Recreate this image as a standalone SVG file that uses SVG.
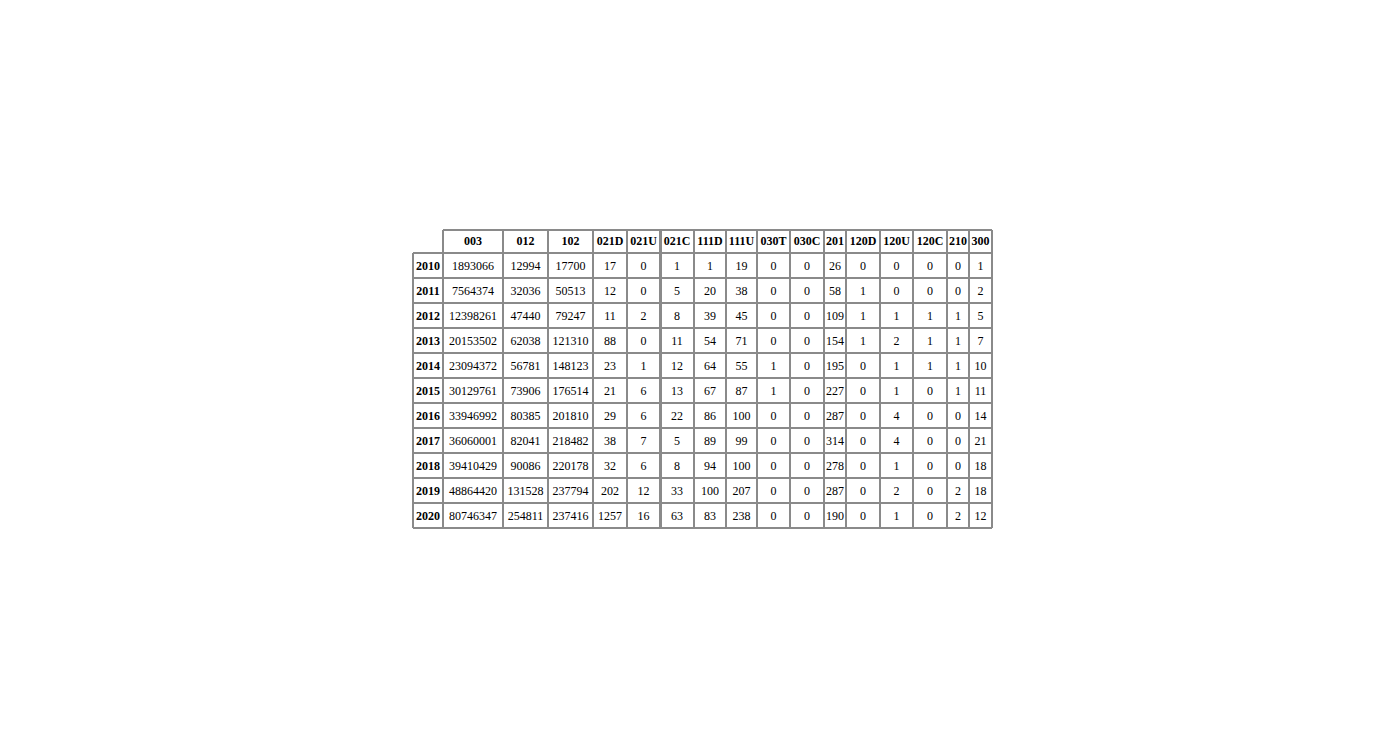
<svg xmlns="http://www.w3.org/2000/svg" width="1400" height="750" viewBox="0 0 1400 750">
<style>
.g{stroke:#8a8a8a;stroke-width:2;fill:none}
text{font-family:"Liberation Serif","Times New Roman",serif;font-size:12px;fill:#000;text-anchor:middle}
.h{font-weight:bold}
</style>
<rect width="1400" height="750" fill="#fff"/>
<g id="grid">
<path class="g" d="M443,230H992M413,253H992M413,278H992M413,303H992M413,328H992M413,353H992M413,378H992M413,403H992M413,428H992M413,453H992M413,478H992M413,503H992M413,528H992"/>
<path class="g" d="M413,253V528M443,230V528M503,230V528M548,230V528M593,230V528M627,230V528M660,230V528M694,230V528M726,230V528M757,230V528M790,230V528M824,230V528M846,230V528M880,230V528M913,230V528M947,230V528M969,230V528M992,230V528"/>
<path stroke="#8a8a8a" stroke-width="1" d="M661.5,230V528"/>
</g>
<g id="header" class="h">
<text x="473" y="245">003</text><text x="525.5" y="245">012</text><text x="570.5" y="245">102</text><text x="610" y="245">021D</text><text x="643.5" y="245">021U</text><text x="677" y="245">021C</text><text x="710" y="245">111D</text><text x="741.5" y="245">111U</text><text x="773.5" y="245">030T</text><text x="807" y="245">030C</text><text x="835" y="245">201</text><text x="863" y="245">120D</text><text x="896.5" y="245">120U</text><text x="930" y="245">120C</text><text x="958" y="245">210</text><text x="980.5" y="245">300</text>
</g>
<g id="r2010"><text class="h" x="428" y="270">2010</text><text x="473" y="270">1893066</text><text x="525.5" y="270">12994</text><text x="570.5" y="270">17700</text><text x="610" y="270">17</text><text x="643.5" y="270">0</text><text x="677" y="270">1</text><text x="710" y="270">1</text><text x="741.5" y="270">19</text><text x="773.5" y="270">0</text><text x="807" y="270">0</text><text x="835" y="270">26</text><text x="863" y="270">0</text><text x="896.5" y="270">0</text><text x="930" y="270">0</text><text x="958" y="270">0</text><text x="980.5" y="270">1</text></g>
<g id="r2011"><text class="h" x="428" y="295">2011</text><text x="473" y="295">7564374</text><text x="525.5" y="295">32036</text><text x="570.5" y="295">50513</text><text x="610" y="295">12</text><text x="643.5" y="295">0</text><text x="677" y="295">5</text><text x="710" y="295">20</text><text x="741.5" y="295">38</text><text x="773.5" y="295">0</text><text x="807" y="295">0</text><text x="835" y="295">58</text><text x="863" y="295">1</text><text x="896.5" y="295">0</text><text x="930" y="295">0</text><text x="958" y="295">0</text><text x="980.5" y="295">2</text></g>
<g id="r2012"><text class="h" x="428" y="320">2012</text><text x="473" y="320">12398261</text><text x="525.5" y="320">47440</text><text x="570.5" y="320">79247</text><text x="610" y="320">11</text><text x="643.5" y="320">2</text><text x="677" y="320">8</text><text x="710" y="320">39</text><text x="741.5" y="320">45</text><text x="773.5" y="320">0</text><text x="807" y="320">0</text><text x="835" y="320">109</text><text x="863" y="320">1</text><text x="896.5" y="320">1</text><text x="930" y="320">1</text><text x="958" y="320">1</text><text x="980.5" y="320">5</text></g>
<g id="r2013"><text class="h" x="428" y="345">2013</text><text x="473" y="345">20153502</text><text x="525.5" y="345">62038</text><text x="570.5" y="345">121310</text><text x="610" y="345">88</text><text x="643.5" y="345">0</text><text x="677" y="345">11</text><text x="710" y="345">54</text><text x="741.5" y="345">71</text><text x="773.5" y="345">0</text><text x="807" y="345">0</text><text x="835" y="345">154</text><text x="863" y="345">1</text><text x="896.5" y="345">2</text><text x="930" y="345">1</text><text x="958" y="345">1</text><text x="980.5" y="345">7</text></g>
<g id="r2014"><text class="h" x="428" y="370">2014</text><text x="473" y="370">23094372</text><text x="525.5" y="370">56781</text><text x="570.5" y="370">148123</text><text x="610" y="370">23</text><text x="643.5" y="370">1</text><text x="677" y="370">12</text><text x="710" y="370">64</text><text x="741.5" y="370">55</text><text x="773.5" y="370">1</text><text x="807" y="370">0</text><text x="835" y="370">195</text><text x="863" y="370">0</text><text x="896.5" y="370">1</text><text x="930" y="370">1</text><text x="958" y="370">1</text><text x="980.5" y="370">10</text></g>
<g id="r2015"><text class="h" x="428" y="395">2015</text><text x="473" y="395">30129761</text><text x="525.5" y="395">73906</text><text x="570.5" y="395">176514</text><text x="610" y="395">21</text><text x="643.5" y="395">6</text><text x="677" y="395">13</text><text x="710" y="395">67</text><text x="741.5" y="395">87</text><text x="773.5" y="395">1</text><text x="807" y="395">0</text><text x="835" y="395">227</text><text x="863" y="395">0</text><text x="896.5" y="395">1</text><text x="930" y="395">0</text><text x="958" y="395">1</text><text x="980.5" y="395">11</text></g>
<g id="r2016"><text class="h" x="428" y="420">2016</text><text x="473" y="420">33946992</text><text x="525.5" y="420">80385</text><text x="570.5" y="420">201810</text><text x="610" y="420">29</text><text x="643.5" y="420">6</text><text x="677" y="420">22</text><text x="710" y="420">86</text><text x="741.5" y="420">100</text><text x="773.5" y="420">0</text><text x="807" y="420">0</text><text x="835" y="420">287</text><text x="863" y="420">0</text><text x="896.5" y="420">4</text><text x="930" y="420">0</text><text x="958" y="420">0</text><text x="980.5" y="420">14</text></g>
<g id="r2017"><text class="h" x="428" y="445">2017</text><text x="473" y="445">36060001</text><text x="525.5" y="445">82041</text><text x="570.5" y="445">218482</text><text x="610" y="445">38</text><text x="643.5" y="445">7</text><text x="677" y="445">5</text><text x="710" y="445">89</text><text x="741.5" y="445">99</text><text x="773.5" y="445">0</text><text x="807" y="445">0</text><text x="835" y="445">314</text><text x="863" y="445">0</text><text x="896.5" y="445">4</text><text x="930" y="445">0</text><text x="958" y="445">0</text><text x="980.5" y="445">21</text></g>
<g id="r2018"><text class="h" x="428" y="470">2018</text><text x="473" y="470">39410429</text><text x="525.5" y="470">90086</text><text x="570.5" y="470">220178</text><text x="610" y="470">32</text><text x="643.5" y="470">6</text><text x="677" y="470">8</text><text x="710" y="470">94</text><text x="741.5" y="470">100</text><text x="773.5" y="470">0</text><text x="807" y="470">0</text><text x="835" y="470">278</text><text x="863" y="470">0</text><text x="896.5" y="470">1</text><text x="930" y="470">0</text><text x="958" y="470">0</text><text x="980.5" y="470">18</text></g>
<g id="r2019"><text class="h" x="428" y="495">2019</text><text x="473" y="495">48864420</text><text x="525.5" y="495">131528</text><text x="570.5" y="495">237794</text><text x="610" y="495">202</text><text x="643.5" y="495">12</text><text x="677" y="495">33</text><text x="710" y="495">100</text><text x="741.5" y="495">207</text><text x="773.5" y="495">0</text><text x="807" y="495">0</text><text x="835" y="495">287</text><text x="863" y="495">0</text><text x="896.5" y="495">2</text><text x="930" y="495">0</text><text x="958" y="495">2</text><text x="980.5" y="495">18</text></g>
<g id="r2020"><text class="h" x="428" y="520">2020</text><text x="473" y="520">80746347</text><text x="525.5" y="520">254811</text><text x="570.5" y="520">237416</text><text x="610" y="520">1257</text><text x="643.5" y="520">16</text><text x="677" y="520">63</text><text x="710" y="520">83</text><text x="741.5" y="520">238</text><text x="773.5" y="520">0</text><text x="807" y="520">0</text><text x="835" y="520">190</text><text x="863" y="520">0</text><text x="896.5" y="520">1</text><text x="930" y="520">0</text><text x="958" y="520">2</text><text x="980.5" y="520">12</text></g>
</svg>
